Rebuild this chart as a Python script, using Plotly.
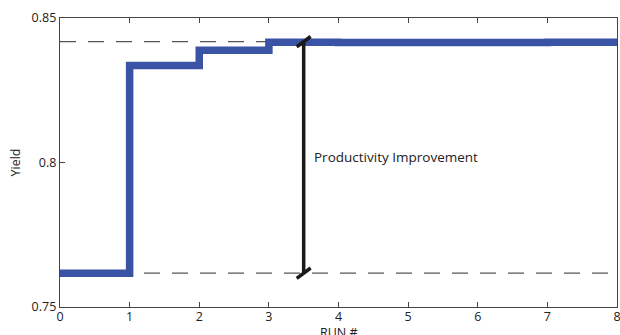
import plotly.graph_objects as go

runs = [0, 1, 2, 3, 4, 5, 6, 7, 8]
yield_vals = [0.7617, 0.8336, 0.8388, 0.8416, 0.8415, 0.8415, 0.8415, 0.8416, 0.8416]
baseline = 0.7617
best = 0.8418
improve_x = 3.5
x_ticks = [0, 1, 2, 3, 4, 5, 6, 7, 8]
y_ticks = [0.75, 0.8, 0.85]
y_labels = ["0.75", "0.8", "0.85"]

FONT = "Open Sans"
BLUE = "#3a53a4"

fig = go.Figure()

for level in [baseline, best]:
    fig.add_trace(go.Scatter(x=[runs[0], runs[-1]], y=[level, level], mode="lines",
                             line=dict(color="#555555", width=1.3, dash="16px,12px"),
                             hoverinfo="skip", showlegend=False))

fig.add_trace(go.Scatter(x=runs, y=yield_vals, mode="lines", line_shape="hv",
                         line=dict(color=BLUE, width=7.5), showlegend=False))

# improvement bar
fig.add_trace(go.Scatter(x=[improve_x, improve_x], y=[baseline, best], mode="lines",
                         line=dict(color="#1a1a1a", width=3.5), showlegend=False))
dx = 0.1
dy = 0.0018
for level in [baseline, best]:
    fig.add_trace(go.Scatter(x=[improve_x - dx, improve_x + dx], y=[level - dy, level + dy],
                             mode="lines", line=dict(color="#1a1a1a", width=3.5),
                             showlegend=False))

fig.add_annotation(x=improve_x, y=(baseline + best) / 2, xref="x", yref="y",
                   text="Productivity Improvement", showarrow=False,
                   xanchor="left", xshift=8, font=dict(family=FONT, size=13.5, color="#222"))

# x-axis title placed just under the tick labels (partly clipped like the reference)
fig.add_annotation(x=0.5, y=0, xref="paper", yref="paper", text="RUN #", showarrow=False,
                   yanchor="top", yshift=-15, font=dict(family=FONT, size=12.5, color="#222"))

fig.update_layout(
    width=620, height=335,
    margin=dict(l=60, r=3, t=18, b=28),
    paper_bgcolor="white", plot_bgcolor="white",
    font=dict(family=FONT, size=12, color="#222"),
    xaxis=dict(range=[0, 8], tickvals=x_ticks, ticks="inside", ticklen=5,
               showline=True, linecolor="#444", linewidth=1.3, mirror="ticks",
               showgrid=False, zeroline=False, tickfont=dict(size=12.5), automargin=False,
               ticklabeloverflow="allow", ticklabelstandoff=-2),
    yaxis=dict(range=[0.75, 0.85], tickvals=y_ticks, ticktext=y_labels, ticks="inside", ticklen=5,
               showline=True, linecolor="#444", linewidth=1.3, mirror=True, automargin=False,
               showgrid=False, zeroline=False, tickfont=dict(size=12.5), ticklabeloverflow="allow",
               title=dict(text="Yield", font=dict(size=12.5), standoff=8)),
)

fig.write_html("out.html")
